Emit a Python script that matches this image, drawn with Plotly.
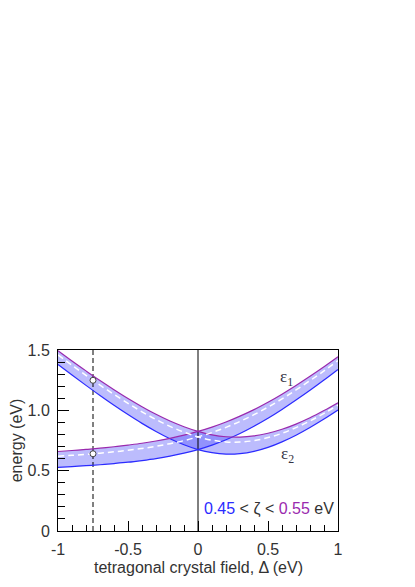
import plotly.graph_objects as go

# tetragonal crystal field (eV)
delta = [-1.0, -0.9, -0.8, -0.7, -0.6, -0.5, -0.4, -0.3, -0.2, -0.1, 0.0,
         0.1, 0.2, 0.3, 0.4, 0.5, 0.6, 0.7, 0.8, 0.9, 1.0]

# bowl-shaped branch (upper at Delta<0, eps_2 at Delta>0)
bowl_045 = [1.380, 1.293, 1.207, 1.123, 1.042, 0.965, 0.892, 0.825, 0.765, 0.715, 0.675,
            0.649, 0.637, 0.641, 0.660, 0.693, 0.739, 0.794, 0.858, 0.928, 1.003]
bowl_052 = [1.459, 1.374, 1.290, 1.209, 1.132, 1.058, 0.988, 0.924, 0.867, 0.819, 0.780,
            0.753, 0.738, 0.737, 0.749, 0.774, 0.810, 0.857, 0.912, 0.975, 1.043]
bowl_055 = [1.494, 1.409, 1.327, 1.247, 1.171, 1.098, 1.030, 0.967, 0.911, 0.864, 0.825,
            0.797, 0.781, 0.778, 0.788, 0.810, 0.843, 0.886, 0.938, 0.998, 1.063]

# rising branch (lower at Delta<0, eps_1 at Delta>0)
rise_045 = [0.528, 0.534, 0.541, 0.549, 0.559, 0.570, 0.584, 0.600, 0.620, 0.645, 0.675,
            0.712, 0.756, 0.808, 0.868, 0.934, 1.007, 1.085, 1.166, 1.251, 1.339]
rise_052 = [0.620, 0.627, 0.635, 0.645, 0.656, 0.669, 0.684, 0.702, 0.724, 0.749, 0.780,
            0.816, 0.859, 0.908, 0.964, 1.027, 1.095, 1.169, 1.246, 1.327, 1.412]
rise_055 = [0.659, 0.667, 0.676, 0.686, 0.698, 0.712, 0.727, 0.746, 0.768, 0.794, 0.825,
            0.861, 0.903, 0.952, 1.006, 1.067, 1.134, 1.206, 1.282, 1.361, 1.444]

# marked points on the dashed line
mark_delta = [-0.75, -0.75]
mark_energy = [1.249, 0.640]

x_range = [-1, 1]
y_range = [0, 1.5]
x_ticks = [-1, -0.5, 0, 0.5, 1]
x_ticktext = ["-1", "-0.5", "0", "0.5", "1"]
y_ticks = [0, 0.5, 1.0, 1.5]
y_ticktext = ["0", "0.5", "1.0", "1.5"]

BLUE = "#2b2bff"
PURPLE = "#9a2aae"
FILL = "rgba(80,80,250,0.38)"
FONT = "Liberation Sans, Arial, sans-serif"
SERIF = "Liberation Serif, Times New Roman, serif"

fig = go.Figure()

# shaded bands
for lo, hi in [(bowl_045, bowl_055), (rise_045, rise_055)]:
    fig.add_trace(go.Scatter(x=delta, y=lo, mode="lines", line=dict(width=0, shape="spline"),
                             hoverinfo="skip", showlegend=False))
    fig.add_trace(go.Scatter(x=delta, y=hi, mode="lines", line=dict(width=0, shape="spline"),
                             fill="tonexty", fillcolor=FILL, hoverinfo="skip", showlegend=False))

# vertical reference lines
fig.add_trace(go.Scatter(x=[0, 0], y=y_range, mode="lines",
                         line=dict(color="black", width=1), showlegend=False))
fig.add_trace(go.Scatter(x=[mark_delta[0]] * 2, y=y_range, mode="lines",
                         line=dict(color="black", width=1, dash="5px,3px"), showlegend=False))

# band edges
for ys, col in [(bowl_045, BLUE), (rise_045, BLUE), (bowl_055, PURPLE), (rise_055, PURPLE)]:
    fig.add_trace(go.Scatter(x=delta, y=ys, mode="lines",
                             line=dict(color=col, width=1.2, shape="spline"), showlegend=False))

# middle dashed curves
for ys in [bowl_052, rise_052]:
    fig.add_trace(go.Scatter(x=delta, y=ys, mode="lines",
                             line=dict(color="white", width=1.5, dash="6px,4px", shape="spline"),
                             showlegend=False))

fig.add_trace(go.Scatter(x=mark_delta, y=mark_energy, mode="markers",
                         marker=dict(size=6, color="white", line=dict(color="#444", width=1)),
                         showlegend=False))

fig.add_annotation(x=0.63, y=1.27, text="ε<sub>1</sub>", showarrow=False,
                   font=dict(family=SERIF, size=17, color="#334"))
fig.add_annotation(x=0.64, y=0.63, text="ε<sub>2</sub>", showarrow=False,
                   font=dict(family=SERIF, size=17, color="#334"))
fig.add_annotation(x=1, y=0.12, xref="paper", yref="paper", xanchor="right", yanchor="middle",
                   xshift=-2, showarrow=False,
                   text=f"<span style='color:{BLUE}'>0.45</span> &lt; ζ &lt; "
                        f"<span style='color:{PURPLE}'>0.55</span> eV",
                   font=dict(family=FONT, size=16, color="#333"))
# x-axis title placed as an annotation so it sits closer to the tick labels
fig.add_annotation(x=0.5, y=0, xref="paper", yref="paper", yanchor="middle", yshift=-36,
                   showarrow=False, text="tetragonal crystal field, Δ (eV)",
                   font=dict(family=FONT, size=16, color="#333"))

axis_common = dict(showgrid=False, zeroline=False, showline=True, linecolor="black", linewidth=1,
                   mirror=True, ticks="inside", tickcolor="black", tickwidth=1, automargin=False,
                   tickfont=dict(family=FONT, size=16, color="#333"))

fig.update_xaxes(range=x_range, tickmode="array", tickvals=x_ticks, ticktext=x_ticktext,
                 ticklen=10, ticklabelstandoff=4,
                 minor=dict(tickmode="linear", tick0=0, dtick=0.1, ticks="inside", ticklen=6,
                            tickcolor="black", showgrid=False),
                 **axis_common)
fig.update_yaxes(range=y_range, tickmode="array", tickvals=y_ticks, ticktext=y_ticktext,
                 ticklen=11, ticklabelstandoff=4,
                 minor=dict(tickmode="linear", tick0=0, dtick=0.1, ticks="inside", ticklen=7,
                            tickcolor="black", showgrid=False),
                 title=dict(text="energy (eV)",
                            font=dict(family=FONT, size=16, color="#333")),
                 **axis_common)

# page body adds an 8px offset, so margins are trimmed to keep the plot box in place
fig.update_layout(width=415, height=587, margin=dict(l=50, r=85, t=342, b=64),
                  paper_bgcolor="white", plot_bgcolor="white", showlegend=False,
                  font=dict(family=FONT))

fig.write_html("out.html")
